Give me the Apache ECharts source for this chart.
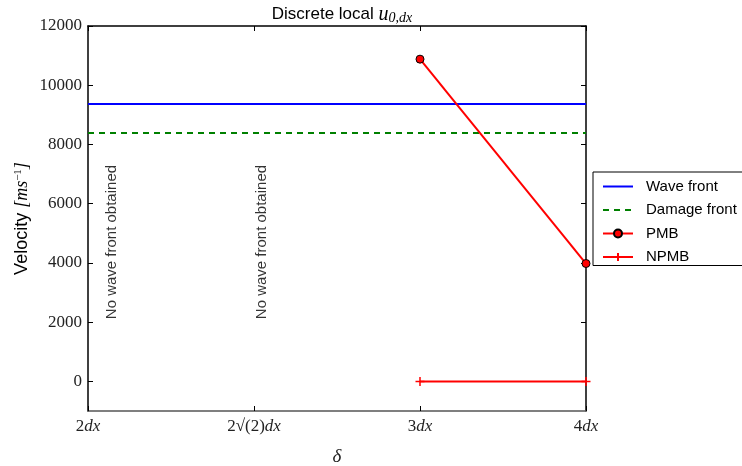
<!DOCTYPE html>
<html>
<head>
<meta charset="utf-8">
<script src="https://cdn.jsdelivr.net/npm/echarts@6/dist/echarts.min.js"></script>
<style>
  html, body { margin: 0; padding: 0; background: #fff; }
  #chart { width: 742px; height: 466px; }
</style>
</head>
<body>
<div id="chart"></div>
<script>
var myChart = echarts.init(document.getElementById('chart'));

// x positions are evenly spaced category slots for delta
var deltaLabels = ['{n|2}{i|dx}', '{n|2√(2)}{i|dx}', '{n|3}{i|dx}', '{n|4}{i|dx}'];
var yTicks = [0, 2000, 4000, 6000, 8000, 10000, 12000];

var waveFrontX = [0, 3];
var waveFrontY = [9370, 9370];
var damageFrontX = [0, 3];
var damageFrontY = [8390, 8390];
var pmbX = [2, 3];
var pmbY = [10880, 3980];
var npmbX = [2, 3];
var npmbY = [0, 0];

var noteX = [0.1, 1.0];
var noteY = [2100, 2100];
var noteText = 'No wave front obtained';

function pairs(xs, ys) {
    return xs.map(function (x, i) { return [x, ys[i]]; });
}

var serif = 'Liberation Serif';
var sans = 'Liberation Sans';

var tickRich = {
    n: { fontFamily: serif, fontSize: 17, color: '#222' },
    i: { fontFamily: serif, fontStyle: 'italic', fontSize: 17, color: '#222' }
};

var plusSymbol = 'path://M0,5L10,5M5,0L5,10';

option = {
    backgroundColor: '#fff',
    animation: false,
    title: {
        text: '{a|Discrete local }{u|u}{s|0,dx}',
        left: 337,
        textAlign: 'center',
        top: -1,
        textStyle: {
            fontWeight: 'normal',
            rich: {
                a: { fontFamily: sans, fontSize: 17, fontWeight: 'normal', color: '#000' },
                u: { fontFamily: serif, fontStyle: 'italic', fontWeight: 'normal', fontSize: 20, color: '#000' },
                s: { fontFamily: serif, fontStyle: 'italic', fontWeight: 'normal', fontSize: 14, color: '#000', padding: [7, 0, 0, 0] }
            }
        }
    },
    grid: {
        left: 88,
        right: 156,
        top: 26,
        bottom: 55,
        outerBoundsMode: 'none'
    },
    legend: {
        data: [
            { name: 'Wave front', itemStyle: { opacity: 0 } },
            { name: 'Damage front', itemStyle: { opacity: 0 } },
            { name: 'PMB' },
            { name: 'NPMB' }
        ],
        orient: 'vertical',
        left: 593,
        top: 172,
        width: 160,
        itemWidth: 30,
        itemHeight: 10,
        itemGap: 8.5,
        padding: [7, 20, 1, 9],
        borderColor: '#000',
        borderWidth: 1,
        borderRadius: 0,
        backgroundColor: '#fff',
        textStyle: { fontFamily: sans, fontSize: 15, color: '#000', padding: [0, 0, 0, 8] }
    },
    xAxis: [{
        type: 'value',
        min: 0,
        max: 3,
        interval: 1,
        name: 'δ',
        nameLocation: 'middle',
        nameGap: 36,
        nameTextStyle: { fontFamily: serif, fontStyle: 'italic', fontSize: 19, color: '#222' },
        axisLine: { show: true, onZero: false, lineStyle: { color: '#555', width: 1.5 } },
        axisTick: { show: true, inside: true, length: 5, lineStyle: { color: '#000' } },
        axisLabel: {
            margin: 7,
            formatter: function (v) { return deltaLabels[Math.round(v)]; },
            rich: tickRich
        },
        splitLine: { show: false }
    }, {
        type: 'value',
        position: 'top',
        min: 0,
        max: 3,
        interval: 1,
        axisLine: { show: true, onZero: false, lineStyle: { color: '#000', width: 1.5 } },
        axisTick: { show: true, inside: true, length: 5, lineStyle: { color: '#000' } },
        axisLabel: { show: false },
        splitLine: { show: false }
    }],
    yAxis: [{
        type: 'value',
        min: -1000,
        max: 12000,
        name: '{a|Velocity }{b|[ms}{c|−1}{b|]}',
        nameLocation: 'middle',
        nameGap: 56,
        nameMoveOverlap: false,
        nameRotate: 90,
        nameTextStyle: {
            rich: {
                a: { fontFamily: sans, fontSize: 18, color: '#000' },
                b: { fontFamily: serif, fontStyle: 'italic', fontSize: 18, color: '#000' },
                c: { fontFamily: serif, fontSize: 11, color: '#000', padding: [0, 0, 8, 0] }
            }
        },
        axisLine: { show: true, onZero: false, lineStyle: { color: '#000', width: 1.5 } },
        axisTick: { show: true, inside: true, length: 5, customValues: yTicks, lineStyle: { color: '#000' } },
        axisLabel: {
            customValues: yTicks,
            formatter: function (v) { return String(v); },
            margin: 6,
            fontFamily: serif,
            fontSize: 17,
            color: '#222'
        },
        splitLine: { show: false }
    }, {
        type: 'value',
        position: 'right',
        min: -1000,
        max: 12000,
        axisLine: { show: true, onZero: false, lineStyle: { color: '#000', width: 1.5 } },
        axisTick: { show: true, inside: true, length: 5, customValues: yTicks, lineStyle: { color: '#000' } },
        axisLabel: { show: false },
        splitLine: { show: false }
    }],
    series: [{
        name: 'Wave front',
        type: 'line',
        data: pairs(waveFrontX, waveFrontY),
        symbol: 'none',
        lineStyle: { color: '#0000ff', width: 2 },
        itemStyle: { color: '#0000ff' }
    }, {
        name: 'Damage front',
        type: 'line',
        data: pairs(damageFrontX, damageFrontY),
        symbol: 'none',
        lineStyle: { color: '#008000', width: 2, type: [6, 5] },
        itemStyle: { color: '#008000' }
    }, {
        name: 'PMB',
        type: 'line',
        data: pairs(pmbX, pmbY),
        symbol: 'circle',
        symbolSize: 8,
        lineStyle: { color: '#ff0000', width: 2 },
        itemStyle: { color: '#ff0000', borderColor: '#000', borderWidth: 1 }
    }, {
        name: 'NPMB',
        type: 'line',
        data: pairs(npmbX, npmbY),
        symbol: plusSymbol,
        symbolSize: 9,
        lineStyle: { color: '#ff0000', width: 2 },
        itemStyle: { color: '#ff0000', borderColor: '#ff0000', borderWidth: 1.5 }
    }, {
        name: 'notes',
        type: 'scatter',
        data: pairs(noteX, noteY),
        symbolSize: 0,
        silent: true,
        label: {
            show: true,
            formatter: noteText,
            position: 'inside',
            rotate: 90,
            align: 'left',
            verticalAlign: 'top',
            fontFamily: sans,
            fontSize: 15,
            color: '#000'
        }
    }]
};
myChart.setOption(option);
</script>
</body>
</html>
